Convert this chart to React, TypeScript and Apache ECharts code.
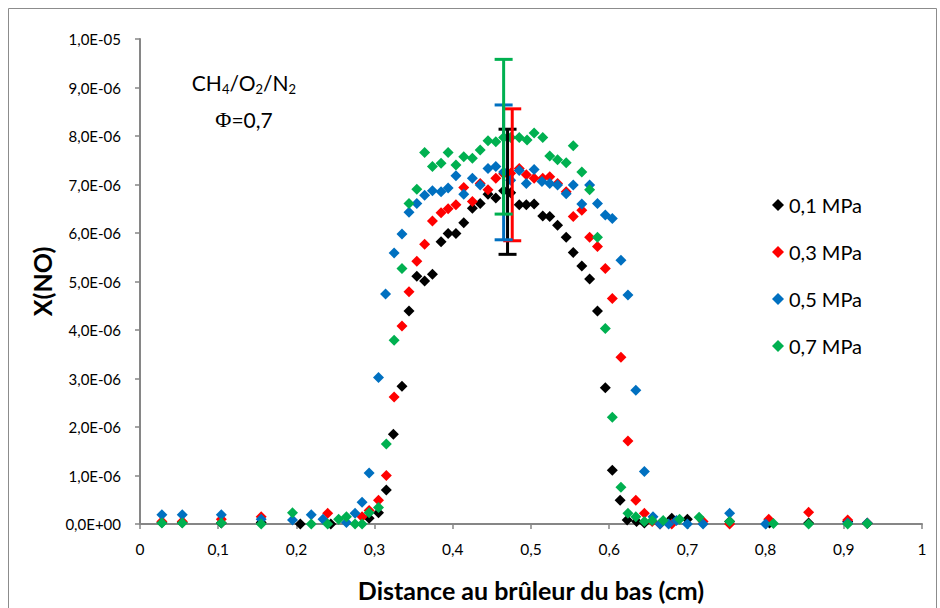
import React, { useEffect, useRef } from 'react';
import * as echarts from 'echarts';

// Series names / colours
const seriesNames = ['0,1 MPa', '0,3 MPa', '0,5 MPa', '0,7 MPa'];
const seriesColors = ['#000000', '#FF0000', '#0070C0', '#00B050'];

// X(NO) values are in units of 1e-6
const x01 = [0.028, 0.054, 0.104, 0.155, 0.205, 0.244, 0.293, 0.305, 0.315, 0.324, 0.335, 0.344, 0.354, 0.364, 0.374, 0.385, 0.394, 0.404, 0.414, 0.425, 0.435, 0.445, 0.455, 0.465, 0.474, 0.485, 0.494, 0.504, 0.515, 0.524, 0.534, 0.545, 0.554, 0.565, 0.575, 0.585, 0.595, 0.604, 0.614, 0.623, 0.635, 0.645, 0.68, 0.70, 0.754, 0.805, 0.855, 0.905, 0.93];
const y01 = [0.03, 0.03, 0.02, 0.03, 0.0, 0.0, 0.12, 0.23, 0.70, 1.85, 2.84, 4.39, 5.11, 5.01, 5.15, 5.82, 5.99, 5.99, 6.21, 6.51, 6.61, 6.80, 6.72, 6.87, 6.83, 6.58, 6.58, 6.60, 6.35, 6.34, 6.16, 5.91, 5.60, 5.32, 5.05, 4.39, 2.81, 1.11, 0.49, 0.08, 0.05, 0.02, 0.12, 0.10, 0.05, 0.02, 0.02, 0.05, 0.01];

const x03 = [0.028, 0.054, 0.104, 0.155, 0.24, 0.284, 0.293, 0.305, 0.315, 0.325, 0.335, 0.344, 0.354, 0.364, 0.374, 0.385, 0.394, 0.404, 0.414, 0.425, 0.435, 0.445, 0.455, 0.465, 0.474, 0.485, 0.494, 0.504, 0.515, 0.524, 0.534, 0.545, 0.554, 0.565, 0.575, 0.585, 0.595, 0.604, 0.615, 0.624, 0.634, 0.645, 0.655, 0.665, 0.68, 0.72, 0.754, 0.804, 0.855, 0.905, 0.93];
const y03 = [0.05, 0.05, 0.10, 0.15, 0.22, 0.15, 0.28, 0.49, 1.00, 2.62, 4.08, 4.79, 5.42, 5.77, 6.25, 6.42, 6.50, 6.58, 6.94, 6.65, 7.02, 6.89, 7.13, 7.22, 7.23, 7.33, 7.20, 7.13, 7.13, 7.16, 7.02, 6.85, 6.34, 6.47, 5.91, 5.72, 5.27, 4.65, 3.44, 1.71, 0.49, 0.22, 0.05, 0.0, 0.0, 0.05, 0.0, 0.10, 0.24, 0.08, 0.02];

const x05 = [0.028, 0.054, 0.104, 0.155, 0.195, 0.219, 0.234, 0.264, 0.275, 0.284, 0.293, 0.305, 0.314, 0.325, 0.335, 0.344, 0.354, 0.364, 0.374, 0.385, 0.394, 0.404, 0.414, 0.425, 0.435, 0.445, 0.455, 0.465, 0.474, 0.485, 0.494, 0.504, 0.514, 0.524, 0.534, 0.545, 0.554, 0.565, 0.575, 0.585, 0.595, 0.604, 0.615, 0.624, 0.634, 0.645, 0.656, 0.665, 0.676, 0.686, 0.70, 0.72, 0.754, 0.80, 0.905, 0.93];
const y05 = [0.19, 0.19, 0.19, 0.10, 0.08, 0.19, 0.10, 0.03, 0.22, 0.45, 1.05, 3.02, 4.74, 5.59, 5.98, 6.43, 6.61, 6.78, 6.87, 6.85, 6.93, 7.18, 6.80, 7.13, 6.99, 7.33, 7.37, 7.26, 7.09, 7.29, 7.02, 7.31, 7.06, 7.02, 6.99, 6.81, 6.99, 6.60, 6.99, 6.61, 6.37, 6.30, 5.44, 4.72, 2.76, 1.08, 0.15, 0.0, 0.0, 0.07, 0.0, 0.0, 0.22, 0.0, 0.02, 0.02];

const x07 = [0.028, 0.054, 0.104, 0.155, 0.195, 0.219, 0.24, 0.254, 0.264, 0.275, 0.284, 0.293, 0.305, 0.315, 0.325, 0.335, 0.344, 0.354, 0.364, 0.374, 0.385, 0.394, 0.404, 0.414, 0.425, 0.435, 0.445, 0.455, 0.465, 0.474, 0.485, 0.495, 0.504, 0.515, 0.524, 0.534, 0.545, 0.554, 0.565, 0.575, 0.585, 0.595, 0.604, 0.615, 0.624, 0.634, 0.645, 0.655, 0.669, 0.69, 0.715, 0.754, 0.81, 0.855, 0.905, 0.93];
const y07 = [0.02, 0.02, 0.02, 0.0, 0.23, 0.0, 0.0, 0.10, 0.15, 0.0, 0.0, 0.23, 0.34, 1.65, 3.79, 5.27, 6.61, 6.90, 7.66, 7.37, 7.44, 7.66, 7.40, 7.57, 7.54, 7.71, 7.90, 7.88, 7.97, 7.97, 7.97, 7.92, 8.06, 7.97, 7.59, 7.51, 7.45, 7.80, 7.26, 6.89, 5.91, 4.03, 2.20, 0.76, 0.22, 0.15, 0.05, 0.07, 0.07, 0.10, 0.14, 0.05, 0.01, 0.0, 0.0, 0.01];

// Error bars (one per series), units of 1e-6
const errX = [0.470, 0.476, 0.465, 0.465];
const errLow = [5.56, 5.84, 5.86, 6.39];
const errHigh = [8.14, 8.56, 8.64, 9.58];

const xsAll = [x01, x03, x05, x07];
const ysAll = [y01, y03, y05, y07];

// Axis settings
const xMin = 0, xMax = 1, xStep = 0.1;
const yMin = 0, yMax = 10, yStep = 1; // ×1e-6

const FONT = 'Lato';

function fmtY(v: number): string {
  const s = (v * 1e-6).toExponential(1);
  const m = s.match(/^(-?\d)\.(\d)e([+-])(\d+)$/);
  if (!m) return s;
  return `${m[1]},${m[2]}E${m[3]}${m[4].padStart(2, '0')}`;
}
function fmtX(v: number): string {
  const r = Math.round(v * 10) / 10;
  return String(r).replace('.', ',');
}

export default function App() {
  const ref = useRef<HTMLDivElement>(null);
  useEffect(() => {
    if (!ref.current) return;
    const chart = echarts.init(ref.current, undefined, { renderer: 'svg' });
    const scatterSeries = seriesNames.map((name, i) => ({
      name,
      type: 'scatter',
      symbol: 'diamond',
      symbolSize: 11,
      itemStyle: { color: seriesColors[i], opacity: 1 },
      data: xsAll[i].map((x, j) => [x, ysAll[i][j]]),
      z: 2,
    }));
    const option: any = {
      animation: false,
      backgroundColor: '#ffffff',
      textStyle: { fontFamily: FONT },
      grid: { left: 140, right: 18, top: 39, bottom: 84, containLabel: false },
      xAxis: {
        type: 'value',
        min: xMin,
        max: xMax,
        interval: xStep,
        name: 'Distance au brûleur du bas (cm)',
        nameLocation: 'middle',
        nameGap: 53,
        nameTextStyle: { fontFamily: FONT, fontSize: 25, fontWeight: 'bold', color: '#000' },
        splitLine: { show: false },
        axisLine: { show: true, lineStyle: { color: '#868686', width: 2 } },
        axisTick: { show: true, length: 5, lineStyle: { color: '#868686', width: 1.5 } },
        axisLabel: { formatter: fmtX, fontFamily: FONT, fontSize: 15.5, color: '#000', margin: 17 },
      },
      yAxis: {
        type: 'value',
        min: yMin,
        max: yMax,
        interval: yStep,
        name: 'X(NO)',
        nameLocation: 'middle',
        nameGap: 81,
        nameTextStyle: { fontFamily: FONT, fontSize: 25, fontWeight: 'bold', color: '#000' },
        splitLine: { show: false },
        axisLine: { show: true, lineStyle: { color: '#868686', width: 2 } },
        axisTick: { show: true, length: 5, lineStyle: { color: '#868686', width: 1.5 } },
        axisLabel: { formatter: fmtY, fontFamily: FONT, fontSize: 15, color: '#000', margin: 19 },
      },
      legend: {
        orient: 'vertical',
        left: 767,
        top: 190,
        itemWidth: 12,
        itemHeight: 12,
        itemGap: 27,
        icon: 'diamond',
        data: seriesNames,
        textStyle: { fontFamily: FONT, fontSize: 20, color: '#000' },
      },
      graphic: [
        {
          type: 'rect',
          shape: { x: 8.5, y: 8.5, width: 928, height: 620 },
          style: { fill: 'none', stroke: '#8c8c8c', lineWidth: 1 },
          silent: true,
        },
        {
          type: 'text',
          x: 244,
          y: 82,
          style: {
            text: '{n|CH}{s|4}{n|/O}{s|2}{n|/N}{s|2}',
            align: 'center',
            verticalAlign: 'middle',
            rich: {
              n: { fontFamily: FONT, fontSize: 21, lineHeight: 26, verticalAlign: 'middle', fill: '#000' },
              s: { fontFamily: FONT, fontSize: 13, lineHeight: 10, verticalAlign: 'bottom', fill: '#000' },
            },
          },
        },
        {
          type: 'text',
          x: 244,
          y: 119,
          style: {
            text: '{p|Φ}{n|=0,7}',
            align: 'center',
            verticalAlign: 'middle',
            rich: {
              p: { fontFamily: 'Liberation Serif', fontSize: 22, lineHeight: 26, fill: '#000' },
              n: { fontFamily: FONT, fontSize: 21, lineHeight: 26, fill: '#000' },
            },
          },
        },
      ],
      series: [
        ...scatterSeries,
        {
          type: 'custom',
          silent: true,
          z: 5,
          encode: { x: 0, y: [1, 2] },
          data: errX.map((x, i) => [x, errLow[i], errHigh[i], i]),
          renderItem: (params: any, api: any) => {
            const x = api.value(0);
            const lo = api.value(1);
            const hi = api.value(2);
            const ci = api.value(3);
            const pLo = api.coord([x, lo]);
            const pHi = api.coord([x, hi]);
            const style = { stroke: seriesColors[ci], lineWidth: 3 };
            const hw = 9;
            return {
              type: 'group',
              children: [
                { type: 'line', shape: { x1: pLo[0], y1: pLo[1], x2: pHi[0], y2: pHi[1] }, style },
                { type: 'line', shape: { x1: pLo[0] - hw, y1: pLo[1], x2: pLo[0] + hw, y2: pLo[1] }, style },
                { type: 'line', shape: { x1: pHi[0] - hw, y1: pHi[1], x2: pHi[0] + hw, y2: pHi[1] }, style },
              ],
            };
          },
        },
      ],
    };
    chart.setOption(option);
    return () => chart.dispose();
  }, []);
  return (
    <div
      ref={ref}
      style={{ position: 'fixed', left: 0, top: 0, width: 940, height: 608, background: '#fff' }}
    />
  );
}
